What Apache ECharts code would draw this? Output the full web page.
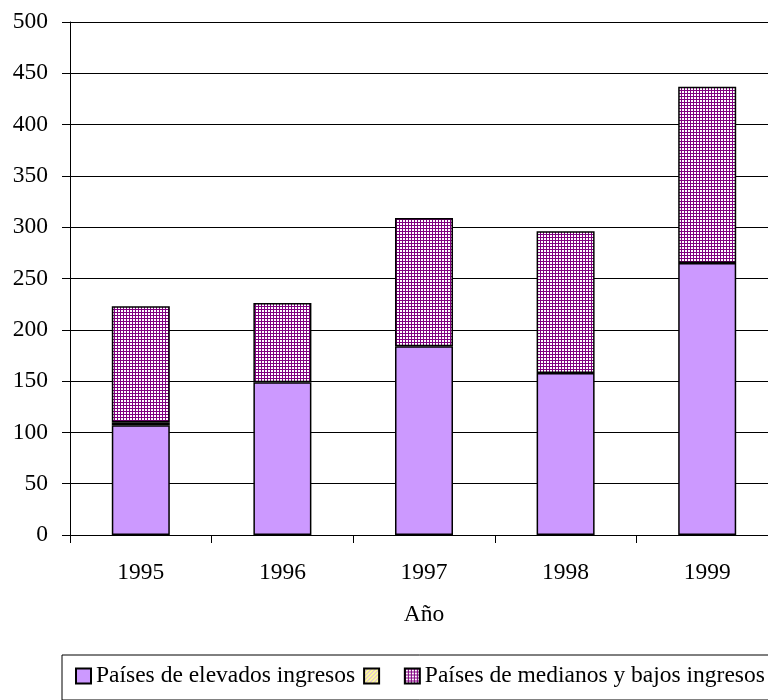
<!DOCTYPE html>
<html><head><meta charset="utf-8">
<script src="https://cdn.jsdelivr.net/npm/echarts@6/dist/echarts.min.js"></script>
<style>html,body{margin:0;padding:0;background:#fff;overflow:hidden;width:768px;height:700px}#c{width:780px;height:700px}</style>
</head><body><div id="c"></div>
<script>
var categories = ['1995', '1996', '1997', '1998', '1999'];
var elevados = [107, 149, 184, 158, 265];
var intermedio = [3, null, null, null, null];
var medianosBajos = [113, 77, 125, 138, 172];
var yTicks = {min: 0, max: 500, interval: 50};
var legendNames = ['Países de elevados ingresos', '\u00a0\u00a0', 'Países de medianos y bajos ingresos'];

function gridPattern() {
  var c = document.createElement('canvas'); c.width = 3; c.height = 3;
  var g = c.getContext('2d');
  g.fillStyle = '#ffffff'; g.fillRect(0, 0, 3, 3);
  g.fillStyle = '#800080'; g.fillRect(0, 0, 3, 1); g.fillRect(0, 0, 1, 3);
  return c;
}
function hatchPattern() {
  var c = document.createElement('canvas'); c.width = 4; c.height = 4;
  var g = c.getContext('2d');
  g.fillStyle = '#FFFF99'; g.fillRect(0, 0, 4, 4);
  g.fillStyle = '#CC99FF';
  for (var i = 0; i < 4; i++) { g.fillRect(3 - i, i, 1, 1); }
  return c;
}

var font = 'Liberation Serif';
var fs = 23.5;
var chart = echarts.init(document.getElementById('c'), null, {renderer: 'canvas'});
chart.setOption({
  animation: false,
  backgroundColor: '#ffffff',
  grid: {left: 70, right: 2, top: 22, bottom: 165, containLabel: false},
  legend: {
    left: 62, top: 655, padding: [9, 12, 12, 13],
    borderColor: '#000', borderWidth: 1,
    itemWidth: 15, itemHeight: 15, itemGap: 8,
    icon: 'rect',
    textStyle: {fontFamily: font, fontSize: fs, color: '#000'},
    data: legendNames
  },
  xAxis: {
    type: 'category', data: categories,
    name: 'Año', nameLocation: 'middle', nameGap: 68,
    nameTextStyle: {fontFamily: font, fontSize: fs, color: '#000'},
    axisLine: {lineStyle: {color: '#000', width: 1}},
    axisTick: {show: true, length: 8, interval: 0, lineStyle: {color: '#000'}},
    axisLabel: {fontFamily: font, fontSize: fs, color: '#000', margin: 26, interval: 0}
  },
  yAxis: {
    type: 'value', min: yTicks.min, max: yTicks.max, interval: yTicks.interval,
    axisLine: {show: true, lineStyle: {color: '#000', width: 1}},
    axisTick: {show: true, length: 8, lineStyle: {color: '#000'}},
    axisLabel: {fontFamily: font, fontSize: fs, color: '#000', margin: 22},
    splitLine: {show: true, lineStyle: {color: '#000', width: 1}}
  },
  series: [
    {name: legendNames[0], type: 'bar', stack: 't', data: elevados, barWidth: 58,
     itemStyle: {color: '#CC99FF', borderColor: '#000', borderWidth: 1.5}},
    {name: legendNames[1], type: 'bar', stack: 't', data: intermedio, barWidth: 58,
     itemStyle: {color: {image: hatchPattern(), repeat: 'repeat'}, borderColor: '#000', borderWidth: 1.5}},
    {name: legendNames[2], type: 'bar', stack: 't', data: medianosBajos, barWidth: 58,
     itemStyle: {color: {image: gridPattern(), repeat: 'repeat'}, borderColor: '#000', borderWidth: 1.5}}
  ]
});
</script></body></html>
